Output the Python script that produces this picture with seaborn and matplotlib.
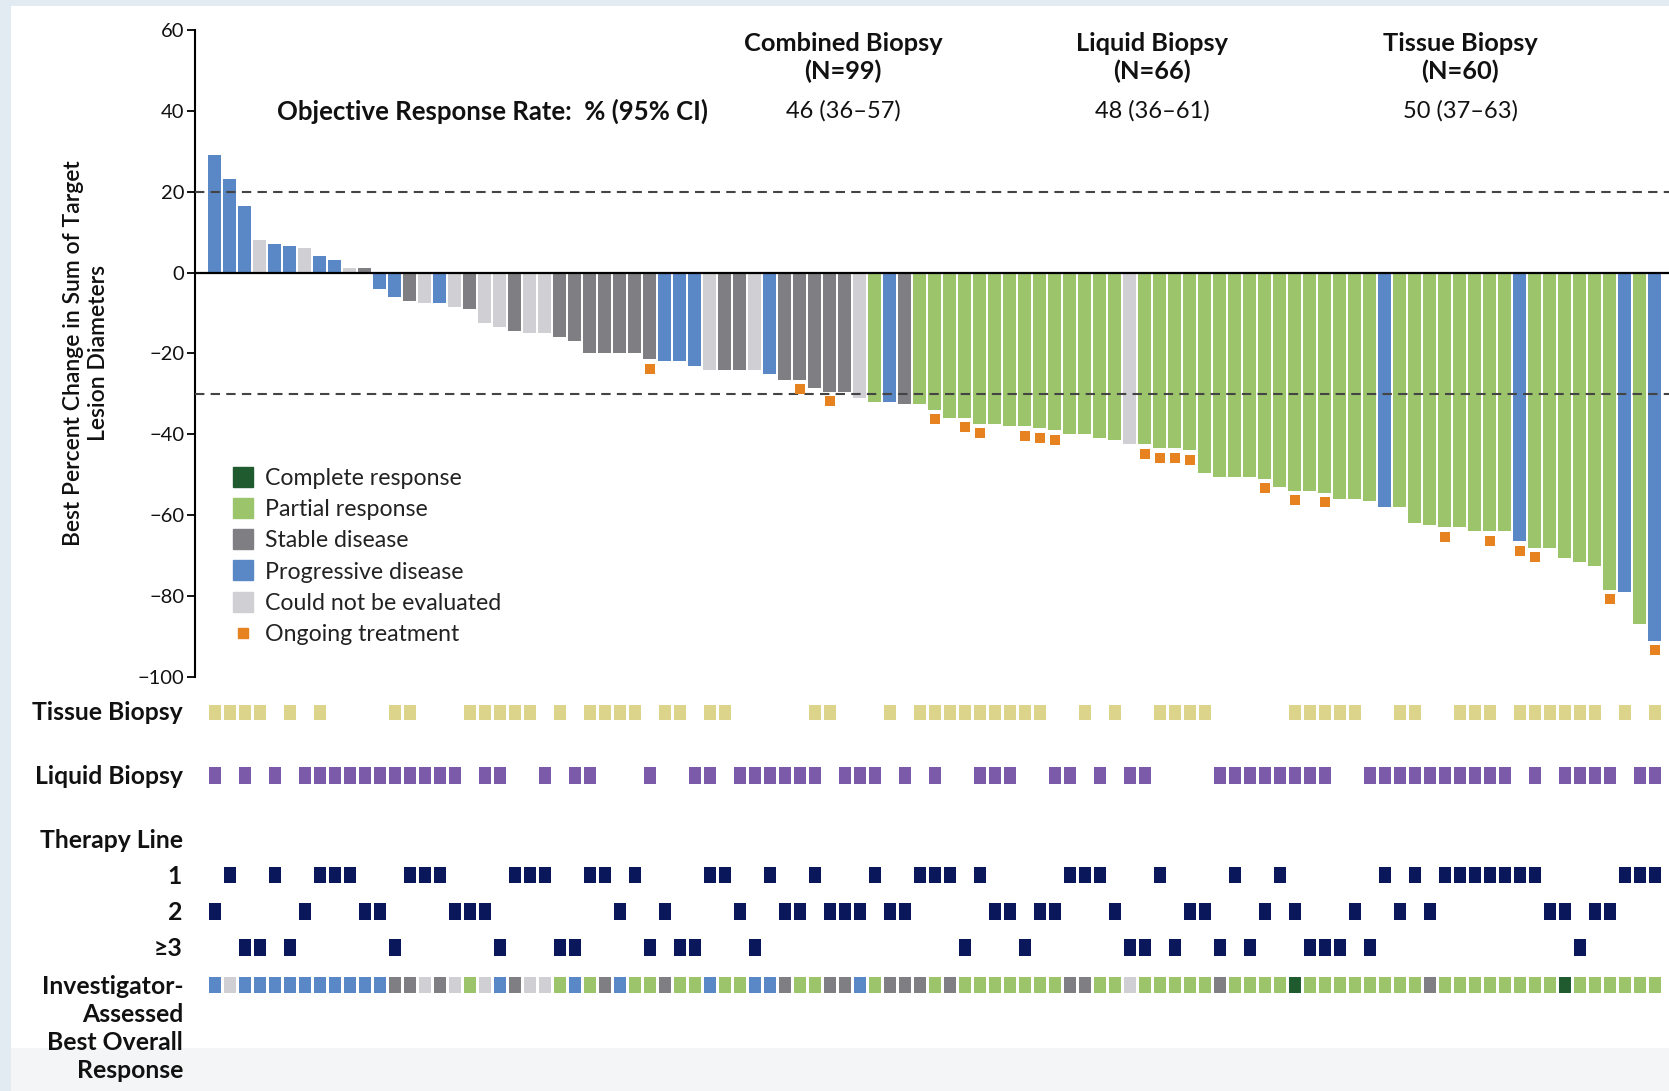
import numpy as np
import pandas as pd
import matplotlib
matplotlib.use("Agg")
import matplotlib.pyplot as plt
from matplotlib.lines import Line2D
from matplotlib.patches import Rectangle
import seaborn as sns

# ---------------- data ----------------
# best percent change in sum of target lesion diameters, one value per patient (waterfall order)
pct_change = [
    29, 23, 16.5, 8, 7, 6.5, 6, 4, 3, 1,
    1, -4, -6, -7, -7.5, -7.5, -8.5, -9, -12.5, -13.5,
    -14.5, -15, -15, -16, -17, -20, -20, -20, -20, -21.5,
    -22, -22, -23, -24, -24, -24, -24, -25, -26.5, -26.5,
    -28.5, -29.5, -29.5, -31, -32, -32, -32.5, -32.5, -34, -36,
    -36, -37.5, -37.5, -38, -38, -38.5, -39, -40, -40, -41,
    -41.5, -42.5, -42.5, -43.5, -43.5, -44, -49.5, -50.5, -50.5, -50.5,
    -51, -53, -54, -54, -54.5, -56, -56, -56.5, -58, -58,
    -62, -62.5, -63, -63, -64, -64, -64, -66.5, -68, -68,
    -70.5, -71.5, -72.5, -78.5, -79, -87, -91,
]

# response codes: C complete, R partial, S stable, P progressive, N not evaluated
bar_response = list(
    "PPPNPPNPPN"
    "SPPSNPNSNN"
    "SNNSSSSSSS"
    "PPPNSSNPSS"
    "SSSNRPSRRR"
    "RRRRRRRRRR"
    "RNRRRRRRRR"
    "RRRRRRRRPR"
    "RRRRRRRPRR"
    "RRRRPRP"
)
investigator_response = list(
    "PNPPPPPPPP"
    "PPSSNSNRNP"
    "SNNRPRSPRR"
    "SRRPRRPPSR"
    "RSSPRSSSRS"
    "RRRRRRRSSR"
    "RNRRRRRSRR"
    "RRCRRRRRRR"
    "RSRRRRRRRR"
    "CRRRRRR"
)

# patients (1-based) still on treatment
ongoing = [30, 40, 42, 49, 51, 52, 55, 56, 57, 63, 64, 65, 66, 71, 73, 75,
           83, 86, 88, 89, 94, 97]

# patients (1-based) with a tissue / liquid biopsy result
tissue = [1, 2, 3, 4, 6, 8, 13, 14, 18, 19, 20, 21, 22, 24, 26, 27, 28, 29,
          31, 32, 34, 35, 41, 42, 46, 48, 49, 50, 51, 52, 53, 54, 55, 56, 59,
          61, 64, 65, 66, 67, 73, 74, 75, 76, 77, 80, 81, 84, 85, 86, 88, 89,
          90, 91, 92, 93, 95, 97]
liquid = [1, 3, 5, 7, 8, 9, 10, 11, 12, 13, 14, 15, 16, 17, 19, 20, 23, 25,
          26, 30, 33, 34, 36, 37, 38, 39, 40, 41, 43, 44, 45, 47, 49, 52, 53,
          54, 57, 58, 60, 62, 63, 68, 69, 70, 71, 72, 73, 74, 75, 78, 79, 80,
          81, 82, 83, 84, 85, 86, 87, 89, 91, 92, 93, 94, 96, 97]

# line of therapy per patient (3 means third line or later)
therapy_line = [
    2, 1, 3, 3, 1, 3, 2, 1, 1, 1,
    2, 2, 3, 1, 1, 1, 2, 2, 2, 3,
    1, 1, 1, 3, 3, 1, 1, 2, 1, 3,
    2, 3, 3, 1, 1, 2, 3, 1, 2, 2,
    1, 2, 2, 2, 1, 2, 2, 1, 1, 1,
    3, 1, 2, 2, 3, 2, 2, 1, 1, 1,
    2, 3, 3, 1, 3, 2, 2, 3, 1, 3,
    2, 1, 2, 3, 3, 3, 2, 3, 1, 2,
    1, 2, 1, 1, 1, 1, 1, 1, 1, 2,
    2, 3, 2, 2, 1, 1, 1,
]

response_names = {
    "C": "Complete response",
    "R": "Partial response",
    "S": "Stable disease",
    "P": "Progressive disease",
    "N": "Could not be evaluated",
}
groups = ["Combined Biopsy", "Liquid Biopsy", "Tissue Biopsy"]
group_n = [99, 66, 60]
orr_text = ["46 (36\u201357)", "48 (36\u201361)", "50 (37\u201363)"]

# ---------------- style ----------------
palette = {
    "Complete response": "#1f5b2e",
    "Partial response": "#9cc46b",
    "Stable disease": "#7f7e83",
    "Progressive disease": "#5a87c6",
    "Could not be evaluated": "#d0d0d4",
}
ORANGE = "#e6821f"
TISSUE_C = "#ddd48b"
LIQUID_C = "#7a5aa9"
NAVY = "#0b175b"

sns.set_theme(style="white")
plt.rcParams["font.family"] = ["Lato", "DejaVu Sans"]
plt.rcParams["axes.unicode_minus"] = True

W, H = 1669, 1091
fig = plt.figure(figsize=(W / 100, H / 100), dpi=100)
fig.patch.set_facecolor("white")


def fx(px):
    return px / W


def fy(py):
    return 1 - py / H


# frame strips and footer band
fig.patches.append(Rectangle((0, 0), fx(11), 1, transform=fig.transFigure,
                             facecolor="#e2ebf1", edgecolor="none", zorder=-5))
fig.patches.append(Rectangle((0, fy(6)), 1, 1 - fy(6), transform=fig.transFigure,
                             facecolor="#e2ebf1", edgecolor="none", zorder=-5))
fig.patches.append(Rectangle((fx(11), 0), 1, fy(1048), transform=fig.transFigure,
                             facecolor="#f4f5f6", edgecolor="none", zorder=-5))

n = len(pct_change)
idx = np.arange(n)
XLIM = (-1.31, 96.95)

df = pd.DataFrame({
    "patient": idx,
    "change": pct_change,
    "response": [response_names[c] for c in bar_response],
})

# ---------------- waterfall ----------------
ax = fig.add_axes([fx(195), fy(677), 1 - fx(195), fy(29.8) - fy(677)])
ax.set_facecolor("none")
sns.barplot(data=df, x="patient", y="change", hue="response", palette=palette,
            native_scale=True, dodge=False, width=0.86, errorbar=None,
            saturation=1, legend=False, linewidth=0, ax=ax)

ong = np.array(ongoing) - 1
sns.scatterplot(x=idx[ong], y=np.array(pct_change)[ong] - 2.3, marker="s",
                s=54, color=ORANGE, linewidth=0, ax=ax, zorder=4)

ax.axhline(0, color="black", lw=1.6, zorder=5)
for yv in (20, -30):
    ax.axhline(yv, color="#444444", lw=1.5, ls=(0, (4.5, 3)), zorder=3)

ax.set_xlim(*XLIM)
ax.set_ylim(-100, 60)
yt = np.arange(-100, 61, 20)
ax.set_yticks(yt)
ax.set_yticklabels([f"{v}".replace("-", "\u2212") for v in yt])
ax.set_xticks([])
ax.set_xlabel("")
ax.set_ylabel("")
for s in ("top", "right", "bottom"):
    ax.spines[s].set_visible(False)
ax.spines["left"].set_color("black")
ax.spines["left"].set_linewidth(1.5)
ax.tick_params(axis="y", direction="out", length=5.5, width=1.3, color="black",
               labelsize=14.5, pad=2, left=True, labelcolor="#111111")

fig.text(fx(86), fy(353), "Best Percent Change in Sum of Target\nLesion Diameters",
         rotation=90, ha="center", va="center", fontsize=16.5, fontweight="semibold",
         linespacing=1.25, multialignment="center", color="#111111")

# legend
handles = [Line2D([], [], marker="s", markersize=13.8, linestyle="none",
                  color=palette[name]) for name in palette]
handles.append(Line2D([], [], marker="s", markersize=7.2, linestyle="none", color=ORANGE))
labels = list(palette) + ["Ongoing treatment"]
ax.legend(handles, labels, loc="upper left", bbox_to_anchor=(fx(231), fy(468)),
          bbox_transform=fig.transFigure, frameon=False, fontsize=16.7,
          handlelength=1.0, handletextpad=0.45, labelspacing=0.44,
          borderpad=0, borderaxespad=0, labelcolor="#222222")

# header block
fig.text(fx(277), fy(111), "Objective Response Rate:  % (95% CI)", ha="left",
         va="center", fontsize=18.5, fontweight="bold", color="#111111")
for cx, name, nn, orr in zip((843, 1152, 1460), groups, group_n, orr_text):
    fig.text(fx(cx), fy(43.5), name, ha="center", va="center", fontsize=18.3,
             fontweight="bold", color="#111111")
    fig.text(fx(cx), fy(71.5), f"(N={nn})", ha="center", va="center", fontsize=18.3,
             fontweight="bold", color="#111111")
    fig.text(fx(cx), fy(111), orr, ha="center", va="center", fontsize=17,
             color="#111111")

# ---------------- annotation rows ----------------
ax2 = fig.add_axes([fx(195), 0, 1 - fx(195), fy(690)])
ax2.set_xlim(*XLIM)
ax2.set_ylim(H, 690)
ax2.axis("off")

SQ_W = 0.82


def draw_row(ax_, patients, center, height, color):
    pos = np.array(patients)
    ax_.bar(pos, height, bottom=center - height / 2, width=SQ_W,
            color=color, linewidth=0)


draw_row(ax2, np.array(tissue) - 1, 712.5, 15, TISSUE_C)
draw_row(ax2, np.array(liquid) - 1, 775.8, 17, LIQUID_C)
lines = np.array(therapy_line)
for line_val, cy in ((1, 875), (2, 911.7), (3, 947.5)):
    draw_row(ax2, idx[lines == line_val], cy, 16.7, NAVY)
for code, name in response_names.items():
    sel = [i for i, c in enumerate(investigator_response) if c == code]
    if sel:
        draw_row(ax2, sel, 985, 16.7, palette[name])

row_kw = dict(ha="right", va="center", fontsize=17.8, fontweight="bold", color="#111111")
fig.text(fx(183), fy(713), "Tissue Biopsy", **row_kw)
fig.text(fx(183), fy(777), "Liquid Biopsy", **row_kw)
fig.text(fx(183), fy(841), "Therapy Line", **row_kw)
fig.text(fx(182), fy(876), "1", **row_kw)
fig.text(fx(182), fy(913), "2", **row_kw)
fig.text(fx(182), fy(948), "\u22653", **row_kw)
for txt, yy in (("Investigator-", 987), ("Assessed", 1014),
                ("Best Overall", 1042), ("Response", 1070)):
    fig.text(fx(183), fy(yy), txt, **row_kw)

fig.savefig("out.png", dpi=100, facecolor=fig.get_facecolor())
